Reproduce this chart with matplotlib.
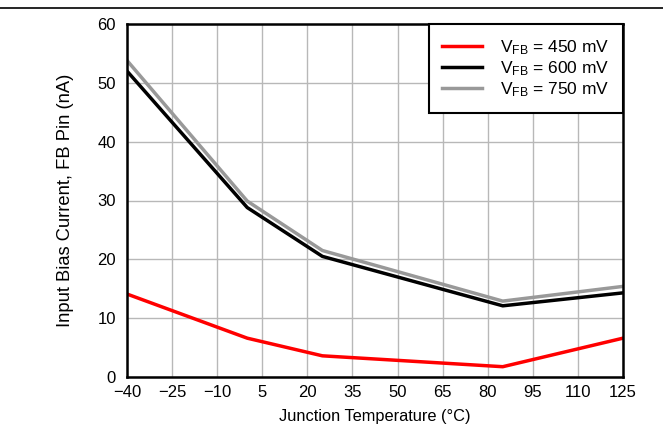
import matplotlib
matplotlib.use("Agg")
import matplotlib.pyplot as plt

plt.rcParams['font.family'] = ['Liberation Sans', 'DejaVu Sans']
plt.rcParams['mathtext.fontset'] = 'custom'
plt.rcParams['mathtext.rm'] = 'Liberation Sans'

temp = [-40, 0, 25, 85, 125]
ib_450 = [14.1, 6.6, 3.6, 1.75, 6.6]
ib_600 = [52.0, 28.8, 20.5, 12.1, 14.3]
ib_750 = [53.8, 29.9, 21.5, 12.9, 15.4]
labels = [r'$\mathregular{V_{FB}}$ = 450 mV',
          r'$\mathregular{V_{FB}}$ = 600 mV',
          r'$\mathregular{V_{FB}}$ = 750 mV']
xticks = list(range(-40, 126, 15))
yticks = list(range(0, 61, 10))

fig = plt.figure(figsize=(6.63, 4.29), dpi=100)
ax = fig.add_axes([127/663, 1-377/429, 496/663, 353/429])

ax.plot(temp, ib_450, color='#ff0000', lw=2.5, label=labels[0])
ax.plot(temp, ib_600, color='black', lw=2.5, label=labels[1])
ax.plot(temp, ib_750, color='#999999', lw=2.5, label=labels[2])

ax.set_xlim(-40, 125)
ax.set_ylim(0, 60)
ax.set_xticks(xticks)
ax.set_xticklabels([str(t).replace('-', '\u2212') for t in xticks])
ax.set_yticks(yticks)
ax.tick_params(length=0, labelsize=12, pad=6)
ax.tick_params(axis='y', pad=8)
ax.grid(color='#b8b8b8', lw=1)
ax.set_axisbelow(True)
for s in ax.spines.values():
    s.set_linewidth(1.8)

ax.set_xlabel('Junction Temperature (°C)', fontsize=11.8, labelpad=6)
ax.set_ylabel('Input Bias Current, FB Pin (nA)', fontsize=13.2, labelpad=17)

leg = ax.legend(loc='upper right', fontsize=12.5, fancybox=False, framealpha=1,
                edgecolor='black', borderaxespad=0, handlelength=2.3,
                labelspacing=0.15, borderpad=0.8, handletextpad=1.0)
leg.get_frame().set_linewidth(1.5)

fig.add_artist(plt.Line2D([0, 1], [1-8/429, 1-8/429], color='black', lw=1.2))

fig.savefig('out.png', dpi=100)
